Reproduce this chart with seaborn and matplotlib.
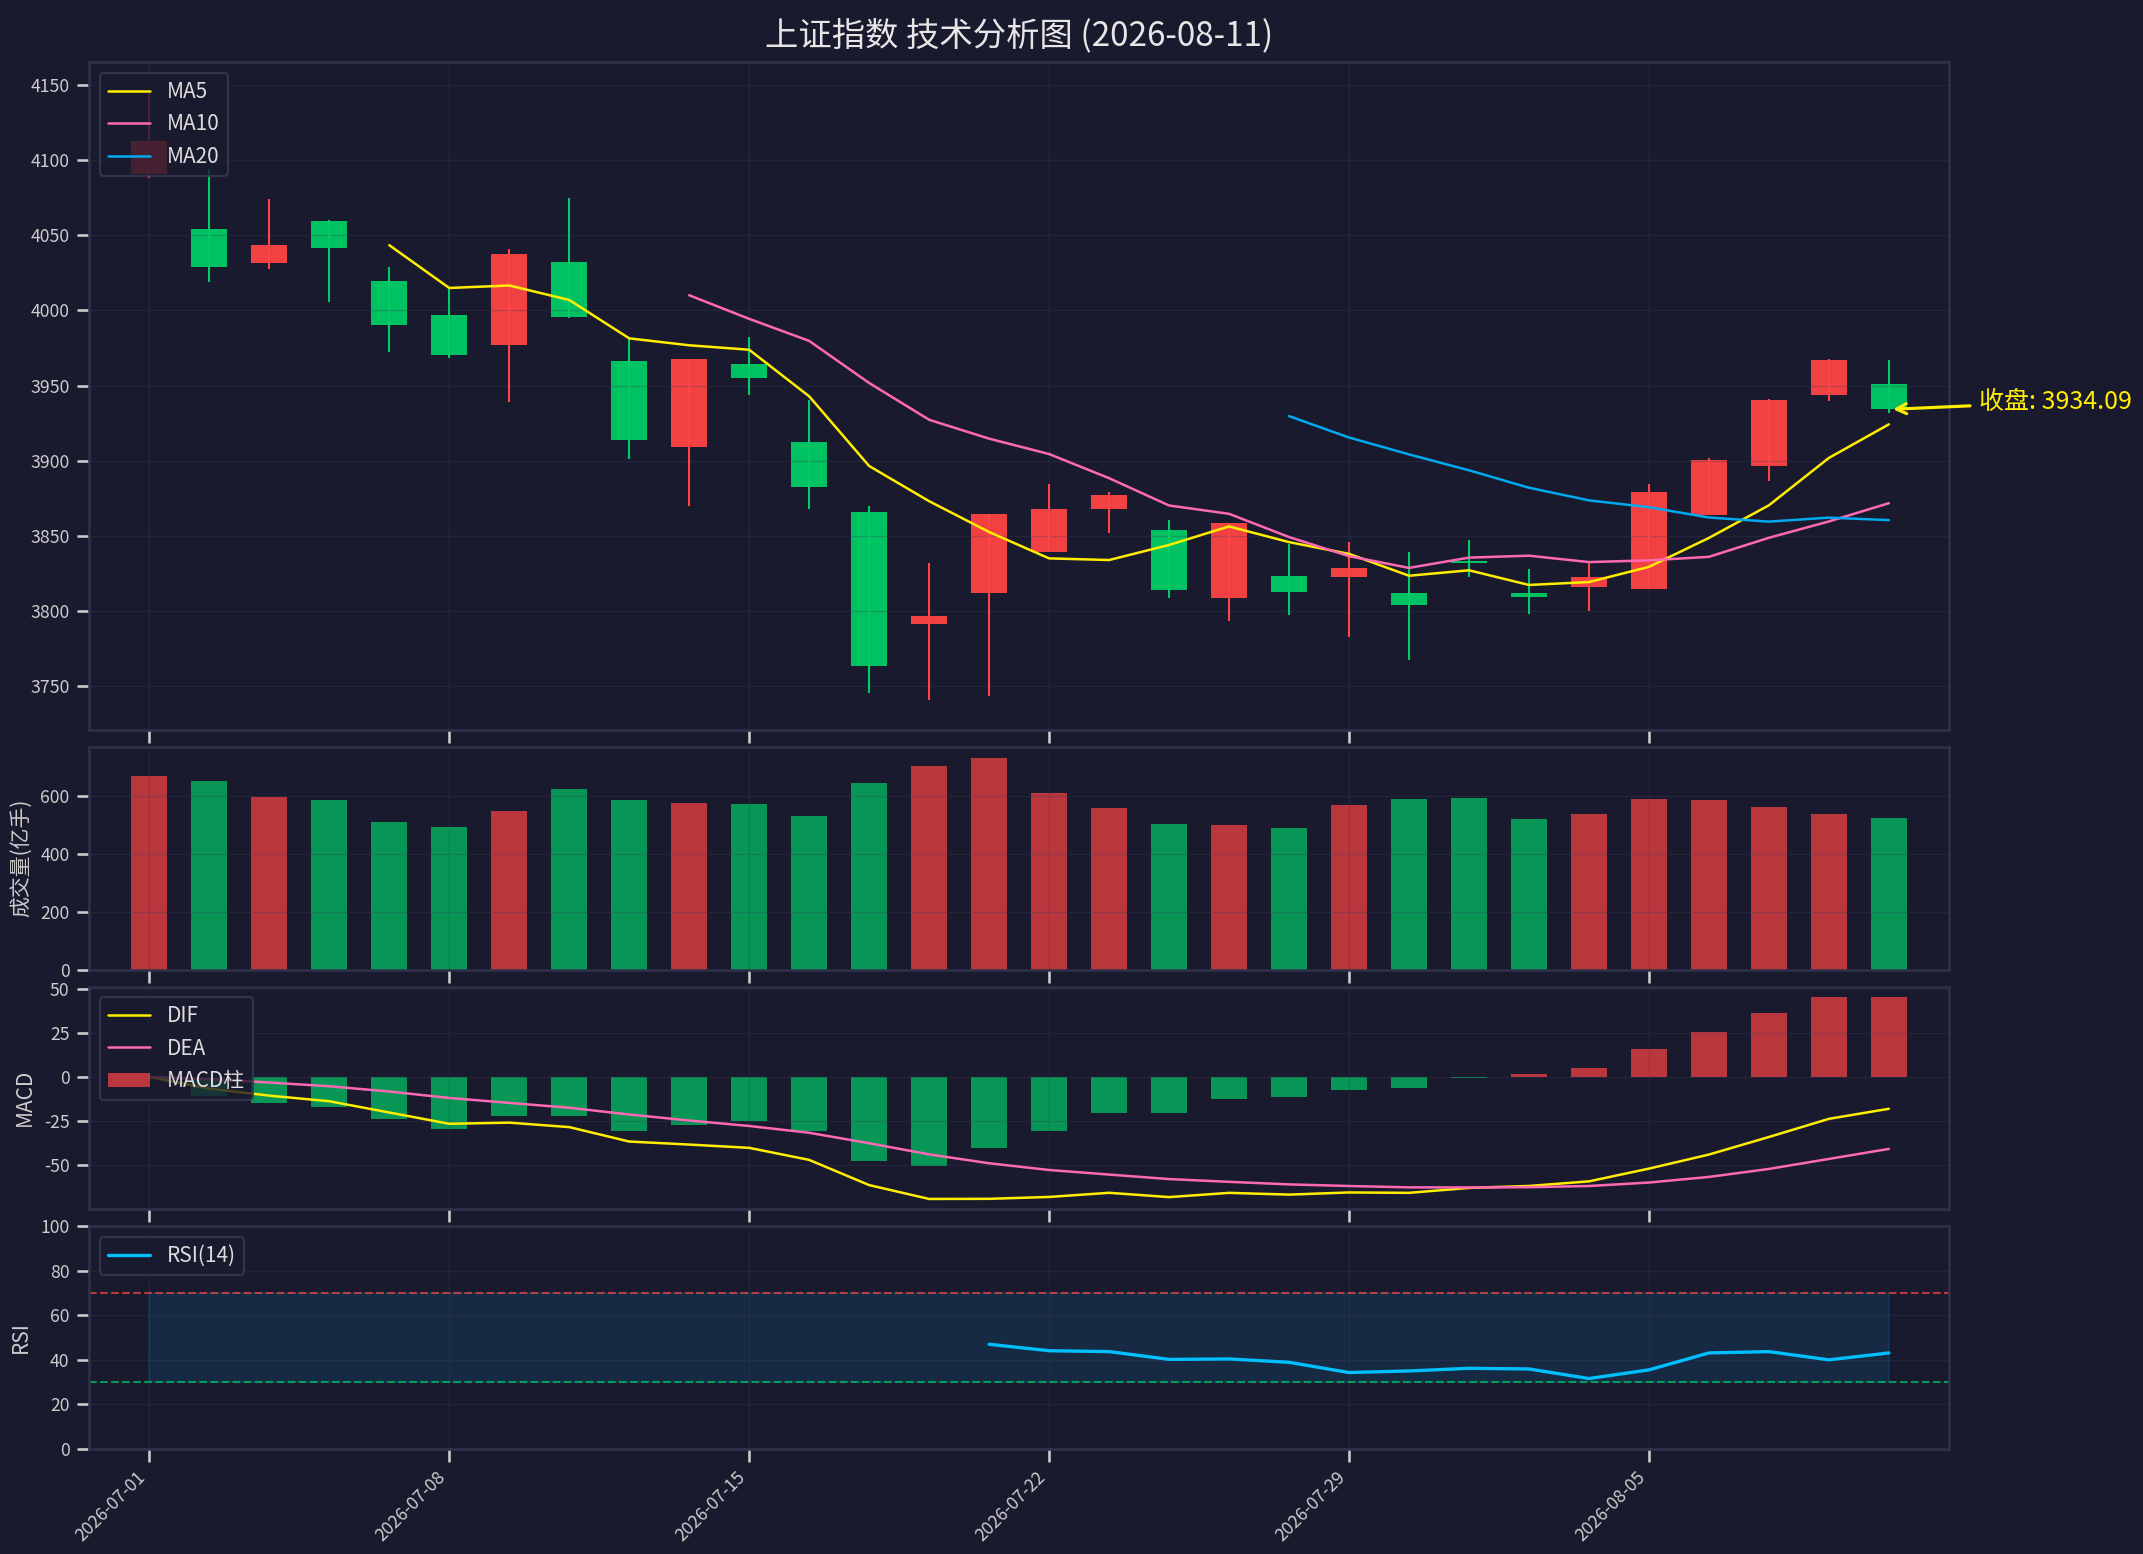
import numpy as np
import pandas as pd
import matplotlib
matplotlib.use('Agg')
import matplotlib.pyplot as plt
import seaborn as sns

# OHLC (30 trading days)
dates = pd.bdate_range('2026-07-01', periods=30).strftime('%Y-%m-%d').tolist()
opens = [4090.9, 4054.5, 4031.4, 4059.8, 4019.8, 3996.7, 3976.9, 4032.0, 3966.3, 3908.8,
         3964.4, 3912.6, 3865.5, 3791.4, 3811.9, 3838.9, 3867.5, 3853.5, 3808.4, 3823.0,
         3822.3, 3812.2, 3833.4, 3812.2, 3815.9, 3814.6, 3863.7, 3896.2, 3943.4, 3950.9]
highs = [4145.0, 4094.0, 4074.3, 4060.4, 4028.7, 4015.7, 4040.9, 4074.9, 3982.2, 3967.4,
         3982.3, 3940.5, 3869.5, 3831.6, 3864.8, 3884.7, 3878.8, 3860.8, 3858.2, 3844.2,
         3845.6, 3839.4, 3846.9, 3827.7, 3832.3, 3884.7, 3901.8, 3941.2, 3967.5, 3967.0]
lows = [4087.9, 4019.0, 4027.5, 4005.3, 3972.2, 3968.6, 3939.3, 3995.0, 3900.8, 3869.7,
        3943.8, 3867.7, 3745.6, 3740.9, 3743.6, 3838.9, 3851.5, 3808.4, 3793.1, 3797.1,
        3782.5, 3767.5, 3822.6, 3798.0, 3800.0, 3814.6, 3863.7, 3886.3, 3939.4, 3931.6]
closes = [4112.5, 4029.0, 4043.8, 4041.4, 3990.5, 3970.1, 4037.3, 3995.6, 3913.6, 3967.4,
          3955.3, 3882.3, 3763.5, 3796.5, 3864.8, 3867.5, 3876.8, 3813.7, 3858.2, 3812.6,
          3828.3, 3804.0, 3831.9, 3809.3, 3822.3, 3878.8, 3900.4, 3940.5, 3967.0, 3934.09]
volumes = [670, 653, 598, 587, 511, 494, 549, 625, 587, 577,
           573, 532, 646, 705, 733, 612, 560, 504, 501, 490,
           570, 591, 594, 521, 539, 591, 587, 563, 539, 525]
rsi_values = [np.nan] * 14 + [46.9, 44.0, 43.6, 40.1, 40.3, 38.8, 34.2, 34.9,
                              36.1, 35.8, 31.5, 35.4, 43.0, 43.6, 39.9, 43.0]
tick_labels = ['2026-07-01', '2026-07-08', '2026-07-15', '2026-07-22', '2026-07-29', '2026-08-05']

df = pd.DataFrame({'date': dates, 'open': opens, 'high': highs, 'low': lows,
                   'close': closes, 'volume': volumes, 'rsi': rsi_values})
df['x'] = np.arange(len(df))
df['ma5'] = df['close'].rolling(5).mean()
df['ma10'] = df['close'].rolling(10).mean()
df['ma20'] = df['close'].rolling(20).mean()
ema12 = df['close'].ewm(span=12, adjust=False).mean()
ema26 = df['close'].ewm(span=26, adjust=False).mean()
df['dif'] = ema12 - ema26
df['dea'] = df['dif'].ewm(span=9, adjust=False).mean()
df['hist'] = 2 * (df['dif'] - df['dea'])

BG = '#1a1a2e'
UP = '#ff4444'
DOWN = '#00cc66'
TXT = '#cccccc'

sns.set_theme(style='dark', rc={
    'figure.facecolor': BG, 'axes.facecolor': BG, 'axes.edgecolor': '#30304a',
    'axes.labelcolor': TXT, 'xtick.color': TXT, 'ytick.color': TXT,
    'text.color': TXT, 'grid.color': '#3c3c5c', 'grid.alpha': 0.3,
    'grid.linewidth': 0.6, 'xtick.bottom': True, 'ytick.left': True,
})
plt.rcParams['font.family'] = ['Noto Sans CJK SC', 'DejaVu Sans']
plt.rcParams['axes.unicode_minus'] = False
plt.rcParams['axes.axisbelow'] = 'line'

fig = plt.figure(figsize=(2143 / 150, 1554 / 150), dpi=150)
gs = fig.add_gridspec(4, 1, height_ratios=[3, 1, 1, 1], hspace=0.051,
                      left=0.0417, right=0.9094, top=0.9599, bottom=0.0678)
ax1 = fig.add_subplot(gs[0])
ax2 = fig.add_subplot(gs[1])
ax3 = fig.add_subplot(gs[2])
ax4 = fig.add_subplot(gs[3])

colors = [UP if c >= o else DOWN for o, c in zip(df['open'], df['close'])]

# candlesticks
body_bottom = np.minimum(df['open'], df['close'])
body_height = (df['close'] - df['open']).abs()
ax1.vlines(df['x'], df['low'], df['high'], colors=colors, linewidth=1)
ax1.bar(df['x'], body_height, bottom=body_bottom, width=0.6, color=colors,
        alpha=0.95, linewidth=0)
sns.lineplot(data=df, x='x', y='ma5', ax=ax1, color='#ffee00', linewidth=1.2, label='MA5')
sns.lineplot(data=df, x='x', y='ma10', ax=ax1, color='#ff69b4', linewidth=1.2, label='MA10')
sns.lineplot(data=df, x='x', y='ma20', ax=ax1, color='#00aaee', linewidth=1.2, label='MA20')
ax1.annotate(f"收盘: {df['close'].iloc[-1]:.2f}", xy=(df['x'].iloc[-1], df['close'].iloc[-1]),
             xytext=(30.5, 3939), color='#ffee00', fontsize=12, va='center', ha='left',
             annotation_clip=False,
             arrowprops=dict(arrowstyle='->', color='#ffee00', lw=1.5))
ax1.set_title('上证指数 技术分析图 (2026-08-11)', fontsize=16, color='#e6e6e6', pad=8)
ax1.set_yticks(np.arange(3750, 4151, 50))

# volume
ax2.bar(df['x'], df['volume'], width=0.6, color=colors, alpha=0.7, linewidth=0)
ax2.set_ylabel('成交量(亿手)', fontsize=10)
ax2.set_yticks([0, 200, 400, 600])

# MACD
sns.lineplot(data=df, x='x', y='dif', ax=ax3, color='#ffee00', linewidth=1.2, label='DIF')
sns.lineplot(data=df, x='x', y='dea', ax=ax3, color='#ff69b4', linewidth=1.2, label='DEA')
hist_colors = [UP if h >= 0 else DOWN for h in df['hist']]
ax3.bar(df['x'], df['hist'], width=0.6, color=hist_colors, alpha=0.7, linewidth=0,
        label='MACD柱')
ax3.set_ylabel('MACD', fontsize=10)
ax3.set_yticks([-50, -25, 0, 25, 50])

# RSI
sns.lineplot(data=df, x='x', y='rsi', ax=ax4, color='#00bfff', linewidth=1.6, label='RSI(14)')
ax4.axhline(70, color=UP, linestyle='--', linewidth=1, alpha=0.7)
ax4.axhline(30, color=DOWN, linestyle='--', linewidth=1, alpha=0.7)
ax4.fill_between(df['x'], 30, 70, color='#00bfff', alpha=0.1)
ax4.set_ylim(0, 100)
ax4.set_ylabel('RSI', fontsize=10)

tick_pos = [i for i, d in enumerate(df['date']) if d in tick_labels]
for ax in (ax1, ax2, ax3, ax4):
    ax.set_xlim(-1, 30)
    ax.set_xticks(tick_pos)
    if ax is ax4:
        ax.set_xticklabels([df['date'][i] for i in tick_pos], rotation=45, ha='right', fontsize=8.5)
    else:
        ax.set_xticklabels([df['date'][i] for i in tick_pos], fontsize=8.5)
    ax.tick_params(axis='y', labelsize=8.5)
    ax.grid(True)
    ax.set_xlabel('')
    for s in ax.spines.values():
        s.set_color('#30304a')
        s.set_linewidth(1.2)
ax1.set_ylabel('')

for ax in (ax1, ax3, ax4):
    ax.legend(loc='upper left', fontsize=10, facecolor=BG, edgecolor='#3a3a55',
              labelcolor='#dddddd', framealpha=0.8)

fig.savefig('out.png', dpi=150, facecolor=BG)
